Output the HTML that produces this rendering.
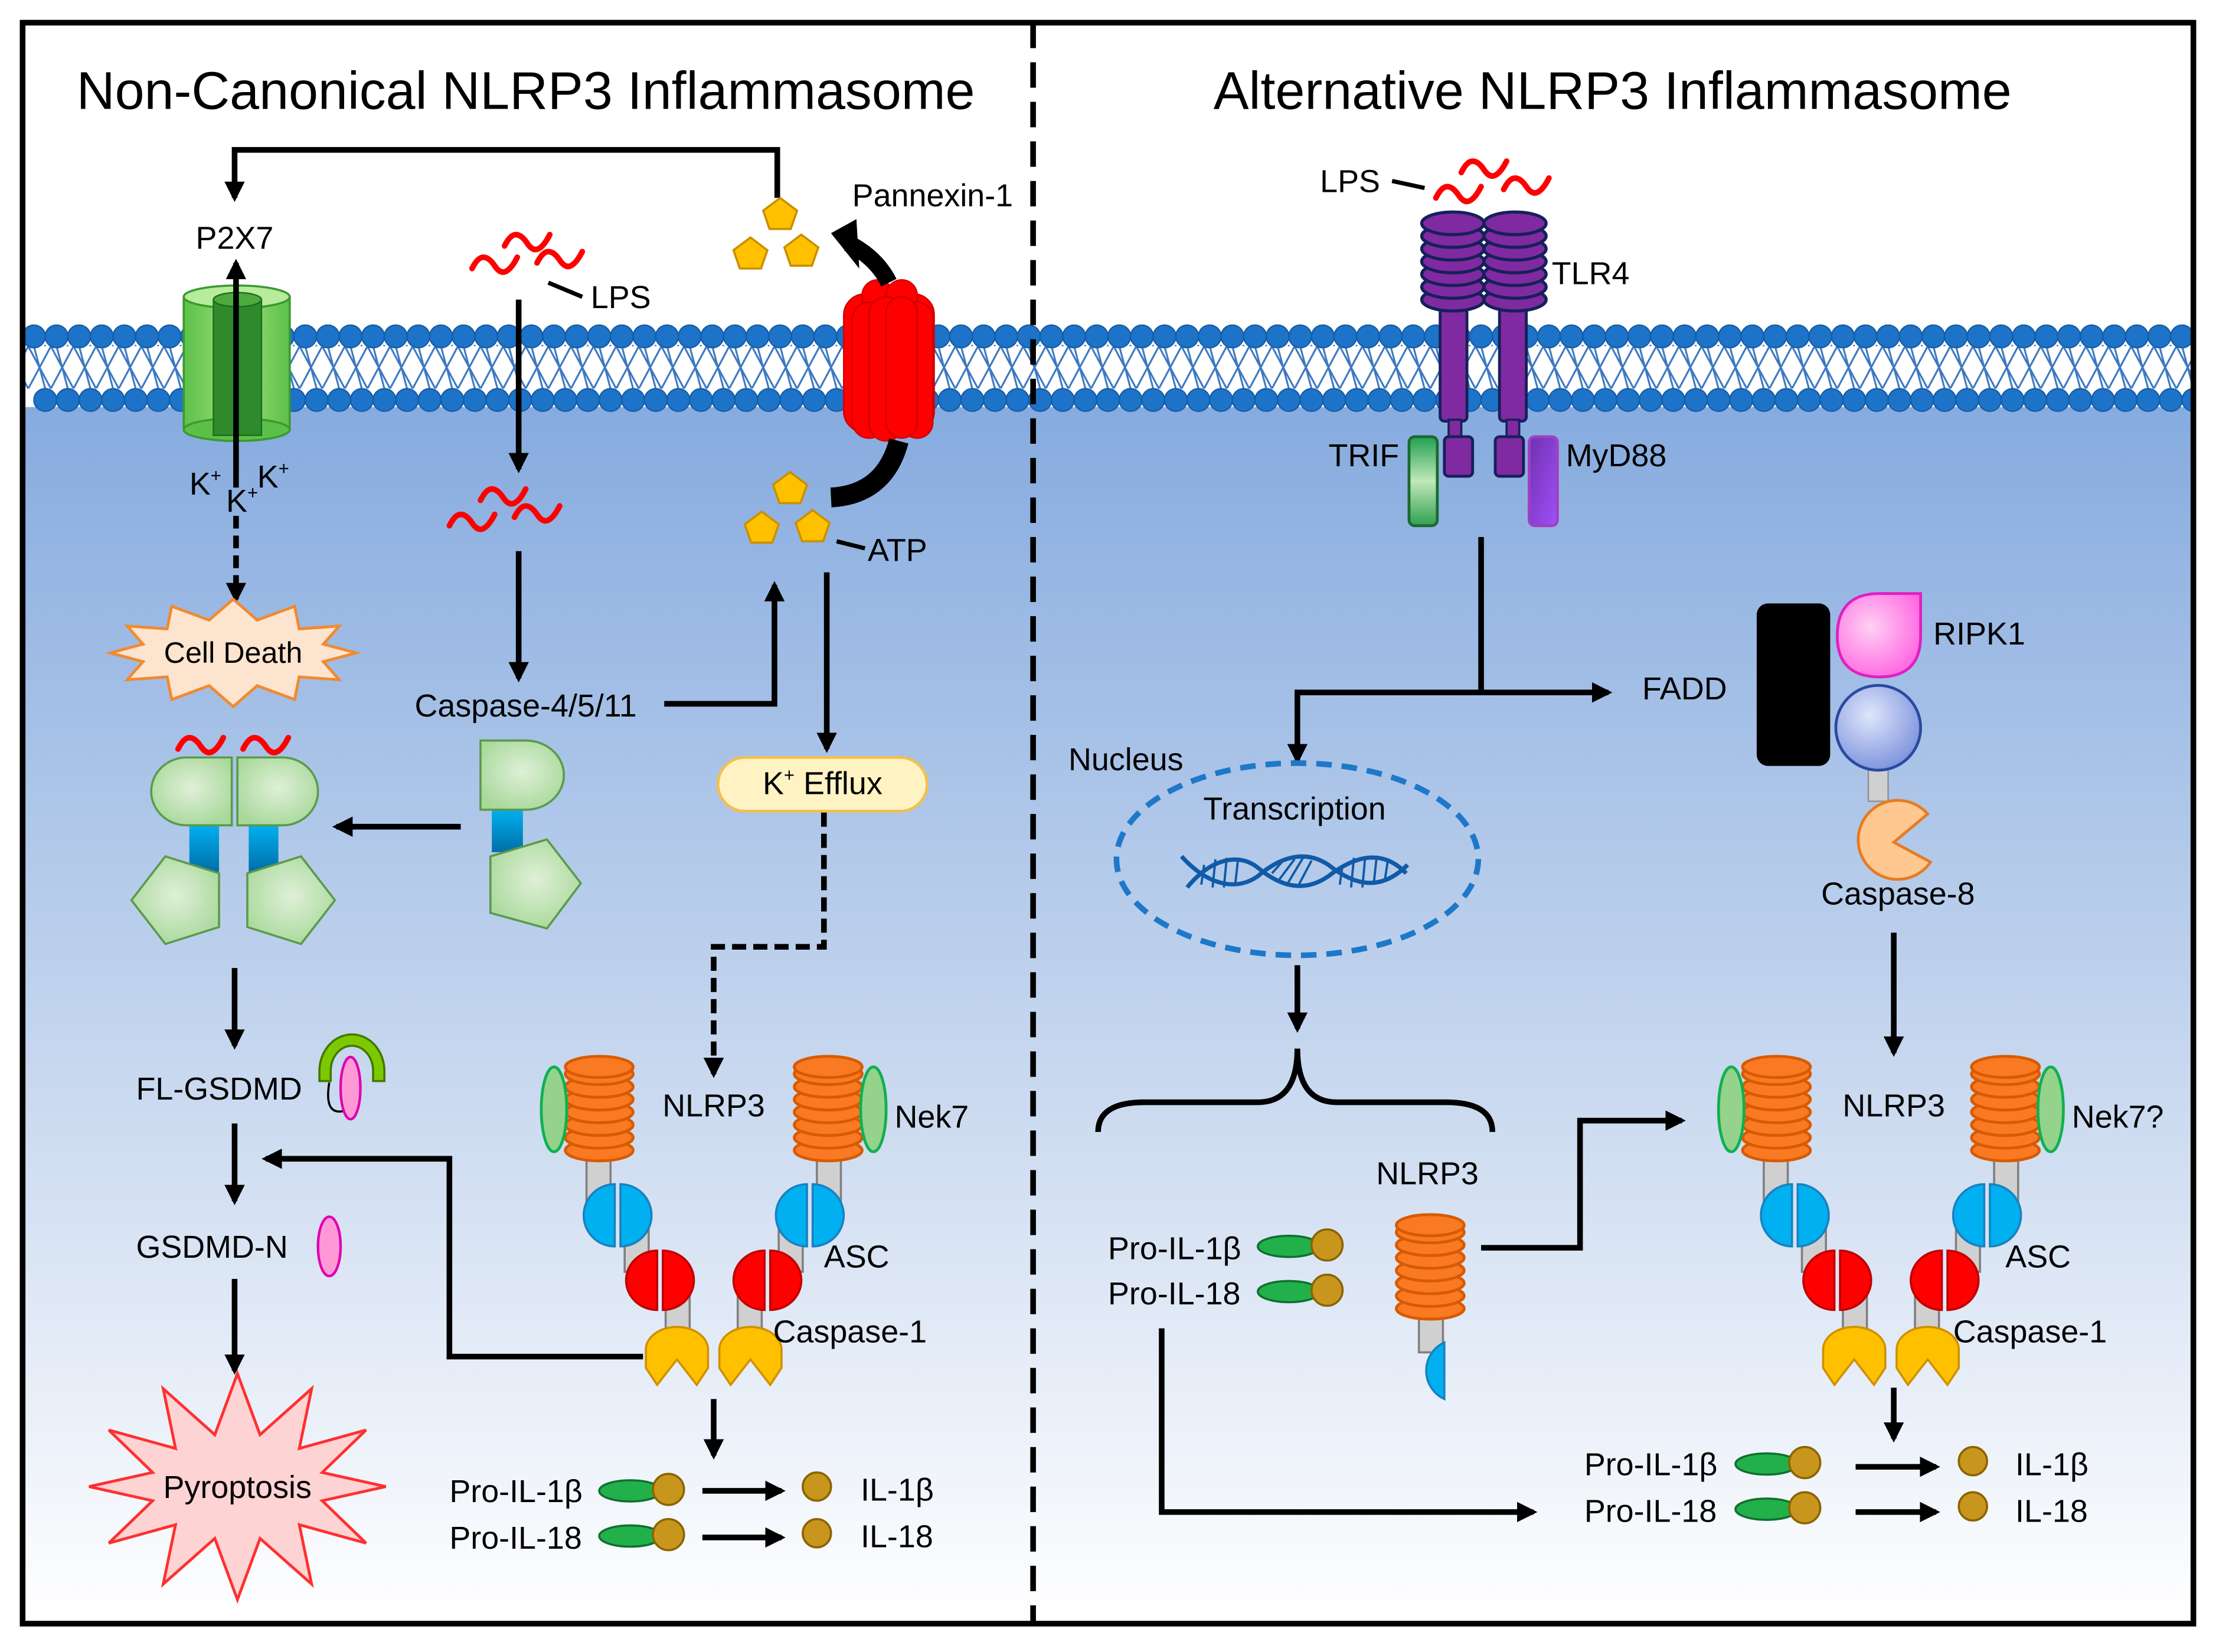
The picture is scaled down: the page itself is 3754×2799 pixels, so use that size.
<!DOCTYPE html>
<html><head><meta charset="utf-8"><style>
html,body{margin:0;padding:0;background:#fff}
svg{display:block}
text{font-family:"Liberation Sans",Arial,sans-serif;fill:#000}
</style></head><body>
<svg width="3754" height="2799" viewBox="0 0 1568 1169" xmlns="http://www.w3.org/2000/svg">
<defs>
<linearGradient id="cyto" x1="0" y1="0" x2="0" y2="1">
<stop offset="0" stop-color="#86abdf"/><stop offset="0.55" stop-color="#c8d8ef"/><stop offset="1" stop-color="#ffffff"/>
</linearGradient>
<pattern id="tails" width="16" height="30" patternUnits="userSpaceOnUse" x="20" y="245">
<path d="M0,0 L16,30 M16,0 L0,30 M4,0 L12,30" stroke="#3d78c0" stroke-width="1.3" fill="none"/>
</pattern>
<radialGradient id="grn" cx="0.5" cy="0.45" r="0.6"><stop offset="0" stop-color="#dff0d8"/><stop offset="1" stop-color="#a8d89a"/></radialGradient>
<linearGradient id="blu" x1="0" y1="0" x2="0" y2="1"><stop offset="0" stop-color="#00b0f0"/><stop offset="1" stop-color="#006ea8"/></linearGradient>
<linearGradient id="p2x" x1="0" y1="0" x2="1" y2="0"><stop offset="0" stop-color="#5cc048"/><stop offset="0.5" stop-color="#9ee07c"/><stop offset="1" stop-color="#5cc048"/></linearGradient>
<linearGradient id="trif" x1="0" y1="0" x2="0" y2="1"><stop offset="0" stop-color="#20a050"/><stop offset="0.5" stop-color="#c0e8b8"/><stop offset="1" stop-color="#30a050"/></linearGradient>
<linearGradient id="myd" x1="0" y1="0" x2="1" y2="1"><stop offset="0" stop-color="#7030b0"/><stop offset="1" stop-color="#a050f8"/></linearGradient>
<radialGradient id="fadd" cx="0.4" cy="0.35" r="0.7"><stop offset="0" stop-color="#dfe6fb"/><stop offset="1" stop-color="#7a90dc"/></radialGradient>
<radialGradient id="ripk" cx="0.4" cy="0.4" r="0.7"><stop offset="0" stop-color="#ffd0f4"/><stop offset="1" stop-color="#ff60e0"/></radialGradient>
<marker id="ah" viewBox="0 0 10 10" refX="8" refY="5" markerWidth="3.6" markerHeight="3.6" orient="auto" markerUnits="strokeWidth">
<path d="M0,0 L10,5 L0,10 Z" fill="#000"/></marker>
<g id="pent"><path d="M0,-11 L12,-2 L7.5,11 L-7.5,11 L-12,-2 Z" fill="#ffc000" stroke="#c89000" stroke-width="1.5"/></g>
<g id="wave"><path d="M0,8 Q4,0 8,0 Q12,0 16,6 Q20,12 24,10 Q28,8 32,0" fill="none" stroke="#ff0000" stroke-width="4" stroke-linecap="round"/></g>
<g id="disc"><ellipse cx="0" cy="0" rx="24" ry="7.5" fill="#f97a22" stroke="#d85a00" stroke-width="2"/></g>
<g id="stack">
<use href="#disc" y="814"/><use href="#disc" y="805"/><use href="#disc" y="796"/><use href="#disc" y="787"/><use href="#disc" y="778"/><use href="#disc" y="769"/><use href="#disc" y="760"/><use href="#disc" y="755"/>
</g>
<g id="half">
<rect x="-90" y="815" width="17" height="35" fill="#d0d0d0" stroke="#808080" stroke-width="1.5"/>
<rect x="-63" y="865" width="17" height="35" fill="#d0d0d0" stroke="#808080" stroke-width="1.5"/>
<rect x="-34" y="915" width="17" height="35" fill="#d0d0d0" stroke="#808080" stroke-width="1.5"/>
<use href="#stack" x="-81"/>
<ellipse cx="-113" cy="785" rx="9" ry="30" fill="#95d28c" stroke="#10b050" stroke-width="2"/>
<path d="M-70,838 A22,22 0 0 0 -70,882 Z" fill="#00b0f0" stroke="#1a80c0" stroke-width="1.5"/>
<path d="M-66,838 A22,22 0 0 1 -66,882 Z" fill="#00b0f0" stroke="#1a80c0" stroke-width="1.5"/>
<path d="M-40,885 A22,21 0 0 0 -40,927 Z" fill="#ff0000" stroke="#c00000" stroke-width="1.5"/>
<path d="M-36,885 A22,21 0 0 1 -36,927 Z" fill="#ff0000" stroke="#c00000" stroke-width="1.5"/>
<path d="M-48,955 A22,16 0 0 1 -4,955 L-4,968 L-12,980 L-26,962 L-40,980 L-48,968 Z" fill="#ffc000" stroke="#d09000" stroke-width="1.5"/>
</g>
<g id="cplx"><use href="#half"/><use href="#half" transform="scale(-1,1)"/></g>
<g id="proil"><ellipse cx="0" cy="0" rx="22" ry="7.5" fill="#22b04b" stroke="#107030" stroke-width="1.5"/><circle cx="27" cy="-1" r="11" fill="#c8961c" stroke="#8a6400" stroke-width="1.5"/></g>
<circle id="head" r="8" fill="#1d73c8" stroke="#175ea8" stroke-width="1"/>
<g id="tdisc"><ellipse cx="0" cy="0" rx="22" ry="8" fill="#7f2aa0" stroke="#16205a" stroke-width="2.2"/></g>
<g id="tstack"><use href="#tdisc" y="212"/><use href="#tdisc" y="203"/><use href="#tdisc" y="194"/><use href="#tdisc" y="185"/><use href="#tdisc" y="176"/><use href="#tdisc" y="167"/><use href="#tdisc" y="158"/></g>
</defs>

<rect x="0" y="0" width="1568" height="1169" fill="#fff"/>
<rect x="17" y="288" width="1534" height="860" fill="url(#cyto)"/>
<rect x="17" y="244" width="1534" height="31" fill="#fff"/>
<rect x="17" y="244" width="1534" height="31" fill="url(#tails)"/>
<g id="toprow">
<use href="#head" x="24" y="238"/><use href="#head" x="40" y="238"/><use href="#head" x="56" y="238"/><use href="#head" x="72" y="238"/><use href="#head" x="88" y="238"/><use href="#head" x="104" y="238"/><use href="#head" x="120" y="238"/><use href="#head" x="136" y="238"/><use href="#head" x="152" y="238"/><use href="#head" x="168" y="238"/><use href="#head" x="184" y="238"/><use href="#head" x="200" y="238"/><use href="#head" x="216" y="238"/><use href="#head" x="232" y="238"/><use href="#head" x="248" y="238"/><use href="#head" x="264" y="238"/><use href="#head" x="280" y="238"/><use href="#head" x="296" y="238"/><use href="#head" x="312" y="238"/><use href="#head" x="328" y="238"/><use href="#head" x="344" y="238"/><use href="#head" x="360" y="238"/><use href="#head" x="376" y="238"/><use href="#head" x="392" y="238"/><use href="#head" x="408" y="238"/><use href="#head" x="424" y="238"/><use href="#head" x="440" y="238"/><use href="#head" x="456" y="238"/><use href="#head" x="472" y="238"/><use href="#head" x="488" y="238"/><use href="#head" x="504" y="238"/><use href="#head" x="520" y="238"/><use href="#head" x="536" y="238"/><use href="#head" x="552" y="238"/><use href="#head" x="568" y="238"/><use href="#head" x="584" y="238"/><use href="#head" x="600" y="238"/><use href="#head" x="616" y="238"/><use href="#head" x="632" y="238"/><use href="#head" x="648" y="238"/><use href="#head" x="664" y="238"/><use href="#head" x="680" y="238"/><use href="#head" x="696" y="238"/><use href="#head" x="712" y="238"/><use href="#head" x="728" y="238"/><use href="#head" x="744" y="238"/><use href="#head" x="760" y="238"/>
</g>
<use href="#toprow" x="752"/>
<use href="#toprow" x="8" y="45"/>
<use href="#toprow" x="760" y="45"/>
<use href="#head" x="1528" y="238"/><use href="#head" x="1544" y="238"/>
<use href="#head" x="1536" y="283"/><use href="#head" x="1552" y="283"/>

<rect x="16" y="16" width="1536" height="1133" fill="none" stroke="#000" stroke-width="4"/>
<rect x="1554" y="200" width="14" height="120" fill="#fff"/>
<rect x="0" y="200" width="14" height="120" fill="#fff"/>
<line x1="731" y1="16" x2="731" y2="1149" stroke="#000" stroke-width="4" stroke-dasharray="18,10"/>

<text x="372" y="77" font-size="37.5" text-anchor="middle">Non-Canonical NLRP3 Inflammasome</text>
<text x="1141" y="77" font-size="37.5" text-anchor="middle">Alternative NLRP3 Inflammasome</text>

<g font-size="22.5">
<polyline points="550,140 550,106 166,106 166,140" fill="none" stroke="#000" stroke-width="4" marker-end="url(#ah)"/>
<text x="166" y="176" text-anchor="middle">P2X7</text>
<rect x="130" y="210" width="75" height="94" fill="url(#p2x)" stroke="#3a9a30" stroke-width="1.5"/>
<ellipse cx="167.5" cy="304" rx="37.5" ry="8" fill="#5cc048" stroke="#3a9a30" stroke-width="1.5"/>
<ellipse cx="167.5" cy="210" rx="37.5" ry="8" fill="#b6ec9a" stroke="#3a9a30" stroke-width="1.5"/>
<rect x="151" y="212" width="34" height="96" fill="#2f8a2c" stroke="#1f6a1c"/>
<ellipse cx="168" cy="212" rx="17" ry="5" fill="#4caa3e" stroke="#1f6a1c"/>
<line x1="167" y1="345" x2="167" y2="186" stroke="#000" stroke-width="4" marker-end="url(#ah)"/>
<text x="134" y="350">K<tspan font-size="13" dy="-9">+</tspan></text>
<text x="160" y="362">K<tspan font-size="13" dy="-9">+</tspan></text>
<text x="182" y="345">K<tspan font-size="13" dy="-9">+</tspan></text>
<line x1="167" y1="365" x2="167" y2="424" stroke="#000" stroke-width="4" stroke-dasharray="9,5" marker-end="url(#ah)"/>
<polygon points="252,462 228.8,455.8 240,443 211.7,445 208.5,429 182,438.8 165,424 148,438.8 121.5,429 118.3,445 90,443 101.2,455.8 78,462 101.2,468.2 90,481 118.3,479 121.5,495 148,485.2 165,500 182,485.2 208.5,495 211.7,479 240,481 228.8,468.2" fill="#fde4cf" stroke="#f08a30" stroke-width="2"/>
<text x="165" y="469" text-anchor="middle" font-size="21">Cell Death</text>

<use href="#wave" x="334" y="182"/><use href="#wave" x="380" y="178"/><use href="#wave" x="357" y="166"/>
<line x1="388" y1="200" x2="412" y2="210" stroke="#000" stroke-width="3"/>
<text x="418" y="218">LPS</text>
<line x1="367" y1="212" x2="367" y2="332" stroke="#000" stroke-width="4" marker-end="url(#ah)"/>
<use href="#wave" x="318" y="364"/><use href="#wave" x="364" y="358"/><use href="#wave" x="340" y="346"/>
<line x1="367" y1="390" x2="367" y2="480" stroke="#000" stroke-width="4" marker-end="url(#ah)"/>
<text x="372" y="507" text-anchor="middle">Caspase-4/5/11</text>
<polyline points="470,498 548,498 548,414" fill="none" stroke="#000" stroke-width="4" marker-end="url(#ah)"/>

<use href="#pent" x="552" y="151"/><use href="#pent" x="531" y="179"/><use href="#pent" x="567" y="177"/>
<use href="#pent" x="559" y="345"/><use href="#pent" x="539" y="373"/><use href="#pent" x="575" y="372"/>
<line x1="592" y1="383" x2="612" y2="388" stroke="#000" stroke-width="3"/>
<text x="614" y="397">ATP</text>
<text x="603" y="146">Pannexin-1</text>
<g fill="#ff0000" stroke="#d00000" stroke-width="1">
<rect x="597" y="208" width="30" height="98" rx="15"/>
<rect x="632" y="208" width="29" height="98" rx="14.5"/>
<rect x="610" y="198" width="22" height="100" rx="11"/>
<rect x="627" y="198" width="22" height="100" rx="11"/>
<rect x="603" y="214" width="24" height="96" rx="12"/>
<rect x="638" y="214" width="22" height="96" rx="11"/>
<rect x="615" y="210" width="24" height="102" rx="12"/>
<rect x="627" y="210" width="22" height="100" rx="11"/>
</g>
<path d="M588,352 Q626,350 636,312" fill="none" stroke="#000" stroke-width="14"/>
<path d="M629,200 Q620,182 600,172" fill="none" stroke="#000" stroke-width="12"/>
<polygon points="588,165 606,155 608,190" fill="#000"/>
<line x1="585" y1="405" x2="585" y2="530" stroke="#000" stroke-width="4" marker-end="url(#ah)"/>
<rect x="508" y="536" width="148" height="38" rx="19" fill="#fff3c4" stroke="#f2c050" stroke-width="2"/>
<text x="582" y="562" text-anchor="middle">K<tspan font-size="13" dy="-9">+</tspan><tspan dy="9"> Efflux</tspan></text>
<polyline points="583,575 583,670 505,670 505,760" fill="none" stroke="#000" stroke-width="4" stroke-dasharray="10,5" marker-end="url(#ah)"/>

<use href="#wave" x="126" y="522"/>
<use href="#wave" x="172" y="522"/>
<rect x="134" y="584" width="21" height="33" fill="url(#blu)"/>
<rect x="176" y="584" width="21" height="33" fill="url(#blu)"/>
<path d="M164,536 L132,536 A25,24 0 0 0 132,584 L164,584 Z" fill="url(#grn)" stroke="#5a9a4a" stroke-width="1.5"/>
<path d="M168,536 L200,536 A25,24 0 0 1 200,584 L168,584 Z" fill="url(#grn)" stroke="#5a9a4a" stroke-width="1.5"/>
<polygon points="93,637 117,606 155,618 155,656 117,668" fill="url(#grn)" stroke="#5a9a4a" stroke-width="1.5"/>
<polygon points="237,637 213,606 175,618 175,656 213,668" fill="url(#grn)" stroke="#5a9a4a" stroke-width="1.5"/>
<rect x="348" y="573" width="22" height="30" fill="url(#blu)"/>
<path d="M340,524 L372,524 A27,24.5 0 0 1 372,573 L340,573 Z" fill="url(#grn)" stroke="#5a9a4a" stroke-width="1.5"/>
<polygon points="347,606 387,594 411,625 387,657 347,646" fill="url(#grn)" stroke="#5a9a4a" stroke-width="1.5"/>
<line x1="326" y1="585" x2="238" y2="585" stroke="#000" stroke-width="4" marker-end="url(#ah)"/>
<line x1="166" y1="685" x2="166" y2="740" stroke="#000" stroke-width="4" marker-end="url(#ah)"/>
<text x="155" y="778" text-anchor="middle">FL-GSDMD</text>
<path d="M226,765 L226,758 A23,26 0 0 1 272,758 L272,765 L264,765 L264,758 A15,18 0 0 0 234,758 L234,765 Z" fill="#7ec800" stroke="#3f7a00" stroke-width="1.5"/>
<path d="M233,766 Q229,790 244,786" fill="none" stroke="#000" stroke-width="1.5"/>
<ellipse cx="248" cy="770" rx="7" ry="22" fill="#ff99d6" stroke="#e000b0" stroke-width="1.8"/>
<line x1="166" y1="795" x2="166" y2="850" stroke="#000" stroke-width="4" marker-end="url(#ah)"/>
<text x="150" y="890" text-anchor="middle">GSDMD-N</text>
<ellipse cx="233" cy="882" rx="8" ry="21" fill="#ff99d6" stroke="#e000b0" stroke-width="1.8"/>
<line x1="166" y1="905" x2="166" y2="970" stroke="#000" stroke-width="4" marker-end="url(#ah)"/>
<polygon points="273,1052 228,1042 259,1012 211.8,1025 220.5,982.7 184,1015.3 168,972 152,1015.3 115.5,982.7 124.2,1025 77,1012 108,1042 63,1052 108,1062 77,1092 124.2,1079 115.5,1121 152,1088.7 168,1132 184,1088.7 220.5,1121 211.8,1079 259,1092 228,1062" fill="#fdd3d3" stroke="#ff3030" stroke-width="2"/>
<text x="168" y="1060" text-anchor="middle">Pyroptosis</text>

<use href="#cplx" x="505"/>
<text x="505" y="790" text-anchor="middle">NLRP3</text>
<text x="633" y="798">Nek7</text>
<text x="583" y="897">ASC</text>
<text x="547" y="950">Caspase-1</text>
<polyline points="455,960 318,960 318,820 188,820" fill="none" stroke="#000" stroke-width="4" marker-end="url(#ah)"/>
<line x1="505" y1="990" x2="505" y2="1030" stroke="#000" stroke-width="4" marker-end="url(#ah)"/>
<text x="318" y="1063">Pro-IL-1β</text>
<text x="318" y="1096">Pro-IL-18</text>
<use href="#proil" x="446" y="1055"/><use href="#proil" x="446" y="1087"/>
<line x1="497" y1="1055" x2="553" y2="1055" stroke="#000" stroke-width="4" marker-end="url(#ah)"/>
<line x1="497" y1="1088" x2="553" y2="1088" stroke="#000" stroke-width="4" marker-end="url(#ah)"/>
<circle cx="578" cy="1052" r="10" fill="#c8961c" stroke="#8a6400" stroke-width="1.5"/>
<circle cx="578" cy="1085" r="10" fill="#c8961c" stroke="#8a6400" stroke-width="1.5"/>
<text x="609" y="1062">IL-1β</text>
<text x="609" y="1095">IL-18</text>

<text x="934" y="136">LPS</text>
<line x1="985" y1="128" x2="1008" y2="133" stroke="#000" stroke-width="3"/>
<use href="#wave" x="1016" y="132"/><use href="#wave" x="1064" y="126"/><use href="#wave" x="1034" y="114"/>
<rect x="1019" y="218" width="19" height="80" rx="3" fill="#7f2aa0" stroke="#16205a" stroke-width="2"/>
<rect x="1061" y="218" width="19" height="80" rx="3" fill="#7f2aa0" stroke="#16205a" stroke-width="2"/>
<rect x="1025" y="297" width="9" height="13" fill="#7f2aa0" stroke="#16205a" stroke-width="1.5"/>
<rect x="1066" y="297" width="9" height="13" fill="#7f2aa0" stroke="#16205a" stroke-width="1.5"/>
<rect x="1022" y="309" width="20" height="28" rx="3" fill="#7f2aa0" stroke="#16205a" stroke-width="2"/>
<rect x="1058" y="309" width="20" height="28" rx="3" fill="#7f2aa0" stroke="#16205a" stroke-width="2"/>
<use href="#tstack" x="1028"/><use href="#tstack" x="1072"/>
<text x="1098" y="201">TLR4</text>
<rect x="997" y="309" width="20" height="63" rx="4" fill="url(#trif)" stroke="#1a6a30" stroke-width="2"/>
<rect x="1082" y="309" width="20" height="63" rx="4" fill="url(#myd)" stroke="#a040c0" stroke-width="2"/>
<text x="940" y="330">TRIF</text>
<text x="1108" y="330">MyD88</text>
<polyline points="1048,380 1048,490 918,490 918,538" fill="none" stroke="#000" stroke-width="4" marker-end="url(#ah)"/>
<line x1="1046" y1="490" x2="1138" y2="490" stroke="#000" stroke-width="4" marker-end="url(#ah)"/>
<text x="1162" y="495">FADD</text>
<rect x="1243" y="427" width="52" height="115" rx="8" fill="#000"/>
<path d="M1300,450 Q1300,420 1330,420 L1359,420 L1359,450 Q1359,479 1330,479 Q1300,479 1300,450 Z" fill="url(#ripk)" stroke="#e020c0" stroke-width="2"/>
<text x="1368" y="456">RIPK1</text>
<rect x="1322" y="543" width="14" height="24" fill="#d0d0d0" stroke="#909090"/>
<circle cx="1329" cy="515" r="30" fill="url(#fadd)" stroke="#2a4aa0" stroke-width="2"/>
<path d="M1366,610 A28,28 0 1 1 1364,576 L1340,596 Z" fill="#ffc890" stroke="#e87a20" stroke-width="2"/>
<text x="1343" y="640" text-anchor="middle">Caspase-8</text>
<line x1="1340" y1="660" x2="1340" y2="745" stroke="#000" stroke-width="4" marker-end="url(#ah)"/>

<text x="756" y="545">Nucleus</text>
<ellipse cx="918" cy="608" rx="128" ry="68" fill="none" stroke="#1e78c8" stroke-width="4" stroke-dasharray="11,7"/>
<text x="916" y="580" text-anchor="middle">Transcription</text>
<g fill="none" stroke="#105aa8" stroke-width="3">
<path d="M840,628 C858,606 878,604 890,614 C902,624 920,634 940,620 C958,606 978,600 995,618"/>
<path d="M836,606 C856,628 876,630 890,620 C904,608 922,600 940,612 C960,628 978,630 996,612"/>
<path d="M852,612 L850,626 M860,608 L858,628 M868,607 L866,628 M876,608 L874,626 M900,618 L908,609 M904,624 L916,608 M910,627 L922,607 M918,628 L928,609 M950,612 L948,626 M958,607 L956,628 M966,606 L964,628 M974,607 L972,626 M982,609 L980,622" stroke-width="1.6"/>
</g>
<line x1="918" y1="683" x2="918" y2="728" stroke="#000" stroke-width="4" marker-end="url(#ah)"/>
<path d="M777,801 Q777,780 810,780 L890,780 Q918,780 918,742 Q918,780 946,780 L1023,780 Q1056,780 1056,801" fill="none" stroke="#000" stroke-width="4"/>

<text x="1010" y="838" text-anchor="middle">NLRP3</text>
<rect x="1004" y="915" width="17" height="42" fill="#d0d0d0" stroke="#808080" stroke-width="1.5"/>
<g transform="translate(1012,112)"><use href="#disc" y="814"/><use href="#disc" y="805"/><use href="#disc" y="796"/><use href="#disc" y="787"/><use href="#disc" y="778"/><use href="#disc" y="769"/><use href="#disc" y="760"/><use href="#disc" y="755"/></g>
<path d="M1022,950 A22,22 0 0 0 1022,990 Z" fill="#00b0f0" stroke="#1a80c0" stroke-width="1.5"/>
<polyline points="1048,883 1118,883 1118,793 1190,793" fill="none" stroke="#000" stroke-width="4" marker-end="url(#ah)"/>
<text x="784" y="891">Pro-IL-1β</text>
<text x="784" y="923">Pro-IL-18</text>
<use href="#proil" x="912" y="882"/><use href="#proil" x="912" y="914"/>
<polyline points="822,940 822,1070 1085,1070" fill="none" stroke="#000" stroke-width="4" marker-end="url(#ah)"/>

<use href="#cplx" x="1338"/>
<text x="1340" y="790" text-anchor="middle">NLRP3</text>
<text x="1466" y="798">Nek7?</text>
<text x="1419" y="897">ASC</text>
<text x="1382" y="950">Caspase-1</text>
<line x1="1340" y1="982" x2="1340" y2="1018" stroke="#000" stroke-width="4" marker-end="url(#ah)"/>
<text x="1121" y="1044">Pro-IL-1β</text>
<text x="1121" y="1077">Pro-IL-18</text>
<use href="#proil" x="1250" y="1036"/><use href="#proil" x="1250" y="1068"/>
<line x1="1313" y1="1038" x2="1370" y2="1038" stroke="#000" stroke-width="4" marker-end="url(#ah)"/>
<line x1="1313" y1="1070" x2="1370" y2="1070" stroke="#000" stroke-width="4" marker-end="url(#ah)"/>
<circle cx="1396" cy="1034" r="10" fill="#c8961c" stroke="#8a6400" stroke-width="1.5"/>
<circle cx="1396" cy="1066" r="10" fill="#c8961c" stroke="#8a6400" stroke-width="1.5"/>
<text x="1426" y="1044">IL-1β</text>
<text x="1426" y="1077">IL-18</text>
</g>
</svg>
</body></html>
